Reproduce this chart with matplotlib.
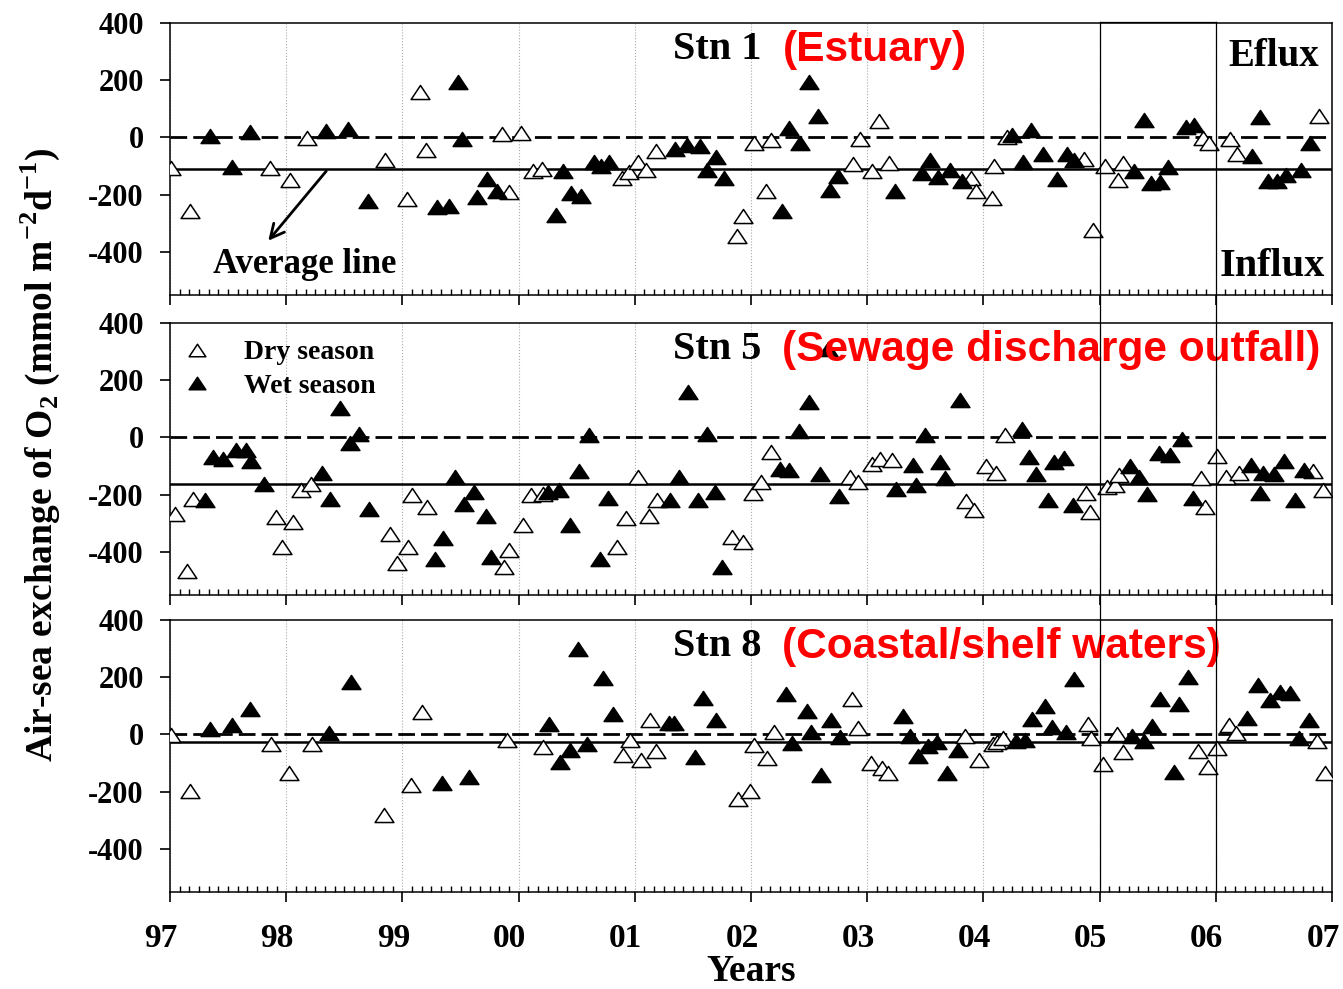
import matplotlib
matplotlib.use("Agg")
import matplotlib.pyplot as plt
from matplotlib.ticker import FixedLocator, MultipleLocator, FuncFormatter
from matplotlib.lines import Line2D
from matplotlib.path import Path
import matplotlib.transforms as mtrans

# air-sea O2 exchange (decimal year, mmol m-2 d-1)
stn1_dry_t = [1997.01, 1997.17, 1997.86, 1998.03, 1998.18, 1998.85, 1999.04, 1999.15, 1999.20,
              1999.86, 1999.92, 2000.02, 2000.12, 2000.20, 2000.89, 2000.95, 2001.03, 2001.10,
              2001.18, 2001.88, 2001.93, 2002.03, 2002.13, 2002.17, 2002.88, 2002.94, 2003.04,
              2003.10, 2003.19, 2003.89, 2003.94, 2004.07, 2004.09, 2004.20, 2004.87, 2004.94,
              2005.05, 2005.16, 2005.20, 2005.89, 2005.94, 2006.12, 2006.18, 2006.89]
stn1_dry_v = [-107, -255, -107, -147, -3, -78, -215, 160, -43,
              13, -192, 15, -118, -110, -142, -122, -84, -115,
              -49, -345, -275, -20, -188, -10, -92, -6, -118,
              56, -89, -142, -188, -211, -101, 3, -75, -322,
              -99, -150, -89, -2, -20, -6, -58, 75]
stn1_wet_t = [1997.34, 1997.53, 1997.69, 1998.34, 1998.53, 1998.70, 1999.30, 1999.40, 1999.48,
              1999.51, 1999.64, 1999.73, 1999.81, 2000.32, 2000.38, 2000.45, 2000.54, 2000.65,
              2000.71, 2000.78, 2001.35, 2001.45, 2001.56, 2001.62, 2001.70, 2001.77, 2002.27,
              2002.33, 2002.42, 2002.50, 2002.58, 2002.68, 2002.75, 2003.24, 2003.47, 2003.54,
              2003.61, 2003.71, 2003.82, 2004.25, 2004.34, 2004.41, 2004.51, 2004.63, 2004.72,
              2004.78, 2005.30, 2005.38, 2005.44, 2005.52, 2005.59, 2005.74, 2005.81, 2006.31,
              2006.38, 2006.45, 2006.53, 2006.60, 2006.73, 2006.81]
stn1_wet_v = [6, -104, 20, 21, 29, -221, -243, -238, 192,
              -6, -208, -145, -186, -272, -116, -194, -203, -87,
              -101, -87, -41, -27, -31, -113, -70, -142, -258,
              33, -20, 192, 75, -182, -134, -188, -124, -78,
              -138, -113, -153, 9, -84, 27, -57, -145, -57,
              -78, -118, 62, -159, -157, -103, 36, 44, -66,
              73, -153, -153, -132, -115, -20]

stn5_dry_t = [1997.04, 1997.15, 1997.20, 1997.91, 1997.96, 1998.06, 1998.13, 1998.21, 1998.89,
              1998.95, 1999.05, 1999.08, 1999.21, 1999.87, 1999.92, 2000.04, 2000.11, 2000.21,
              2000.85, 2000.92, 2001.03, 2001.12, 2001.19, 2001.84, 2001.93, 2002.02, 2002.09,
              2002.17, 2002.85, 2002.92, 2003.04, 2003.11, 2003.21, 2003.85, 2003.92, 2004.02,
              2004.11, 2004.19, 2004.88, 2004.92, 2005.06, 2005.13, 2005.17, 2005.87, 2005.91,
              2006.01, 2006.09, 2006.20, 2006.84, 2006.92]
stn5_dry_v = [-268, -466, -214, -277, -382, -295, -185, -161, -338,
              -440, -382, -202, -243, -454, -394, -307, -200, -196,
              -382, -280, -138, -275, -219, -349, -365, -194, -156,
              -51, -138, -156, -92, -77, -78, -222, -254, -101,
              -123, 7, -194, -260, -173, -167, -132, -140, -243,
              -65, -138, -124, -118, -185]
stn5_wet_t = [1997.30, 1997.37, 1997.46, 1997.57, 1997.65, 1997.70, 1997.81, 1998.31, 1998.38,
              1998.46, 1998.55, 1998.63, 1998.71, 1999.28, 1999.35, 1999.45, 1999.53, 1999.62,
              1999.72, 1999.76, 2000.25, 2000.35, 2000.44, 2000.52, 2000.61, 2000.70, 2000.77,
              2001.30, 2001.38, 2001.46, 2001.54, 2001.62, 2001.69, 2001.75, 2002.25, 2002.33,
              2002.41, 2002.50, 2002.59, 2002.66, 2002.76, 2003.25, 2003.39, 2003.42, 2003.50,
              2003.63, 2003.67, 2003.80, 2004.33, 2004.39, 2004.45, 2004.56, 2004.61, 2004.69,
              2004.77, 2005.26, 2005.34, 2005.41, 2005.51, 2005.61, 2005.71, 2005.80, 2006.30,
              2006.38, 2006.41, 2006.50, 2006.59, 2006.68, 2006.76]
stn5_wet_v = [-217, -69, -74, -43, -43, -82, -161, -123, -214,
              103, -19, 13, -250, -423, -351, -138, -233, -190,
              -273, -417, -190, -185, -307, -117, 10, -423, -210,
              -219, -138, 158, -219, 13, -190, -452, -109, -115,
              22, 123, -129, 310, -206, -179, -98, -167, 7,
              -86, -140, 131, 28, -68, -127, -219, -86, -71,
              -237, -101, -138, -196, -55, -62, -5, -210, -98,
              -194, -123, -129, -82, -219, -113]

stn8_dry_t = [1997.01, 1997.17, 1997.87, 1998.02, 1998.22, 1998.84, 1999.07, 1999.17, 1999.90,
              2000.21, 2000.90, 2000.96, 2001.05, 2001.13, 2001.18, 2001.89, 2001.99, 2002.03,
              2002.14, 2002.20, 2002.87, 2002.92, 2003.03, 2003.13, 2003.18, 2003.84, 2003.96,
              2004.08, 2004.12, 2004.17, 2004.90, 2004.93, 2005.03, 2005.15, 2005.20, 2005.85,
              2005.93, 2006.01, 2006.11, 2006.17, 2006.87, 2006.94]
stn8_dry_v = [-3, -196, -35, -136, -32, -281, -177, 78, -18,
              -43, -72, -18, -88, 49, -59, -224, -197, -38,
              -84, 9, 122, 24, -101, -116, -133, -6, -90,
              -32, -26, -14, 35, -14, -104, 3, -61, -57,
              -113, -49, 32, 5, -24, -134]
stn8_wet_t = [1997.34, 1997.53, 1997.69, 1998.37, 1998.56, 1999.34, 1999.57, 2000.26, 2000.36,
              2000.44, 2000.51, 2000.59, 2000.73, 2000.81, 2001.29, 2001.34, 2001.52, 2001.59,
              2001.70, 2002.30, 2002.35, 2002.48, 2002.52, 2002.60, 2002.69, 2002.77, 2003.31,
              2003.37, 2003.44, 2003.52, 2003.60, 2003.69, 2003.78, 2004.28, 2004.36, 2004.42,
              2004.53, 2004.59, 2004.71, 2004.78, 2005.28, 2005.38, 2005.45, 2005.52, 2005.64,
              2005.68, 2005.76, 2006.27, 2006.36, 2006.47, 2006.55, 2006.64, 2006.72, 2006.80]
stn8_wet_v = [20, 32, 90, 6, 183, -169, -148, 35, -98,
              -55, 299, -34, 198, 72, 40, 40, -78, 128,
              52, 142, -30, 82, 9, -142, 52, -9, 63,
              -6, -76, -40, -26, -133, -53, -24, -18, 53,
              98, 26, 8, 192, -5, -24, 28, 125, -131,
              105, 202, 57, 174, 119, 148, 146, -14, 52]

stn_names = ["Stn 1", "Stn 5", "Stn 8"]
stn_sites = ["(Estuary)", "(Sewage discharge outfall)", "(Coastal/shelf waters)"]
avg_lines = [-110, -163, -25]
year_ticks = list(range(1997, 2008))
ytick_vals = [400, 200, 0, -200, -400]
box_years = [2005, 2006]

serif = "Liberation Serif"
sans = "Liberation Sans"
plt.rcParams["axes.unicode_minus"] = False
plt.rcParams["mathtext.fontset"] = "custom"
plt.rcParams["mathtext.rm"] = "Liberation Serif:bold"
plt.rcParams["mathtext.bf"] = "Liberation Serif:bold"

# slightly flattened triangle, closed so the open ones get all three edges
tri = Path([(-1, -0.75), (1, -0.75), (0, 0.75), (0, 0)], closed=True)

fig = plt.figure(figsize=(13.43, 9.89), dpi=100)
left, width, height = 0.1266, 0.8652, 0.2752
bottoms = [0.7017, 0.3984, 0.0981]

panels = [(stn1_dry_t, stn1_dry_v, stn1_wet_t, stn1_wet_v),
          (stn5_dry_t, stn5_dry_v, stn5_wet_t, stn5_wet_v),
          (stn8_dry_t, stn8_dry_v, stn8_wet_t, stn8_wet_v)]

axes = []
for i, (dt, dv, wt, wv) in enumerate(panels):
    ax = fig.add_axes([left, bottoms[i], width, height])
    ax.set_xlim(1997, 2007)
    ax.set_ylim(-550, 400)
    ax.grid(axis="x", which="major", ls=":", color="#aaaaaa", lw=0.8)
    ax.axhline(0, color="k", lw=2.0, ls=(0, (6, 2.2)), zorder=2)
    ax.axhline(avg_lines[i], color="k", lw=1.8, zorder=2)
    ax.plot(dt, dv, ls="none", marker=tri, ms=13.5, mfc="white", mec="k", mew=1.1, zorder=3)
    ax.plot(wt, wv, ls="none", marker=tri, ms=13.5, mfc="k", mec="k", mew=1.1, zorder=3)

    ax.xaxis.set_major_locator(FixedLocator(year_ticks))
    ax.xaxis.set_minor_locator(MultipleLocator(1 / 12))
    ax.yaxis.set_major_locator(FixedLocator(ytick_vals))
    ax.tick_params(axis="x", which="major", direction="out", length=7, width=1.2, pad=15)
    ax.tick_params(axis="x", which="minor", direction="in", length=4, width=1.0)
    ax.tick_params(axis="y", which="major", direction="out", length=7, width=1.2, pad=12)
    for sp in ax.spines.values():
        sp.set_linewidth(1.1)
    for lbl in ax.get_yticklabels():
        lbl.set_fontfamily(serif)
        lbl.set_fontweight("bold")
        lbl.set_fontsize(22)
    if i < 2:
        ax.tick_params(axis="x", labelbottom=False)
    else:
        ax.xaxis.set_major_formatter(FuncFormatter(lambda v, p: "%02d" % (int(round(v)) % 100)))
        shift = mtrans.ScaledTranslation(-9 / 100, 0, fig.dpi_scale_trans)
        for lbl in ax.get_xticklabels():
            lbl.set_fontfamily(serif)
            lbl.set_fontweight("bold")
            lbl.set_fontsize(24)
            lbl.set_transform(lbl.get_transform() + shift)

    ax.text(0.4329, 0.901, stn_names[i], transform=ax.transAxes, ha="left", va="center",
            fontfamily=serif, fontweight="bold", fontsize=29, zorder=5)
    ax.text(0.527, 0.901, stn_sites[i], transform=ax.transAxes, ha="left", va="center",
            fontfamily=sans, fontweight="bold", fontsize=30.6, color="#ff0000", zorder=5)
    axes.append(ax)

ax1, ax2, ax3 = axes

# flux direction labels and average-line pointer
ax1.text(0.9105, 0.875, "Eflux", transform=ax1.transAxes, ha="left", va="center",
         fontfamily=serif, fontweight="bold", fontsize=28)
ax1.text(0.9036, 0.104, "Influx", transform=ax1.transAxes, ha="left", va="center",
         fontfamily=serif, fontweight="bold", fontsize=29)
ax1.annotate("", xy=(1997.83, -368), xytext=(1998.36, avg_lines[0]),
             arrowprops=dict(arrowstyle="->", lw=2, color="k", mutation_scale=25))
ax1.text(1997.37, -445, "Average line", ha="left", va="center",
         fontfamily=serif, fontweight="bold", fontsize=25)

# legend
h_dry = Line2D([], [], ls="none", marker=tri, ms=12, mfc="white", mec="k", mew=1.1)
h_wet = Line2D([], [], ls="none", marker=tri, ms=12, mfc="k", mec="k", mew=1.1)
ax2.legend([h_dry, h_wet], ["Dry season", "Wet season"], loc="upper left",
           bbox_to_anchor=(0.0112, 0.937), borderaxespad=0, borderpad=0, frameon=False,
           handlelength=1.0, handletextpad=1.19, labelspacing=0.28,
           prop=dict(family=serif, weight="bold", size=20))

# 2005-2006 box across the three panels
trans = mtrans.blended_transform_factory(ax3.transData, fig.transFigure)
top = bottoms[0] + height
for yr in box_years:
    fig.add_artist(Line2D([yr, yr], [bottoms[2], top + 0.001], transform=trans, color="k", lw=0.9))
fig.add_artist(Line2D(box_years, [top + 0.001, top + 0.001], transform=trans, color="k", lw=0.9))

fig.text(0.030, 0.540, r"Air-sea exchange of O$_\mathbf{2}$ (mmol m$^\mathbf{-2}$d$^\mathbf{-1}$)",
         rotation=90, ha="center", va="center", fontfamily=serif, fontweight="bold", fontsize=27)
fig.text(0.5592, 0.018, "Years", ha="center", va="center",
         fontfamily=serif, fontweight="bold", fontsize=27)

fig.savefig("out.png", dpi=100)
